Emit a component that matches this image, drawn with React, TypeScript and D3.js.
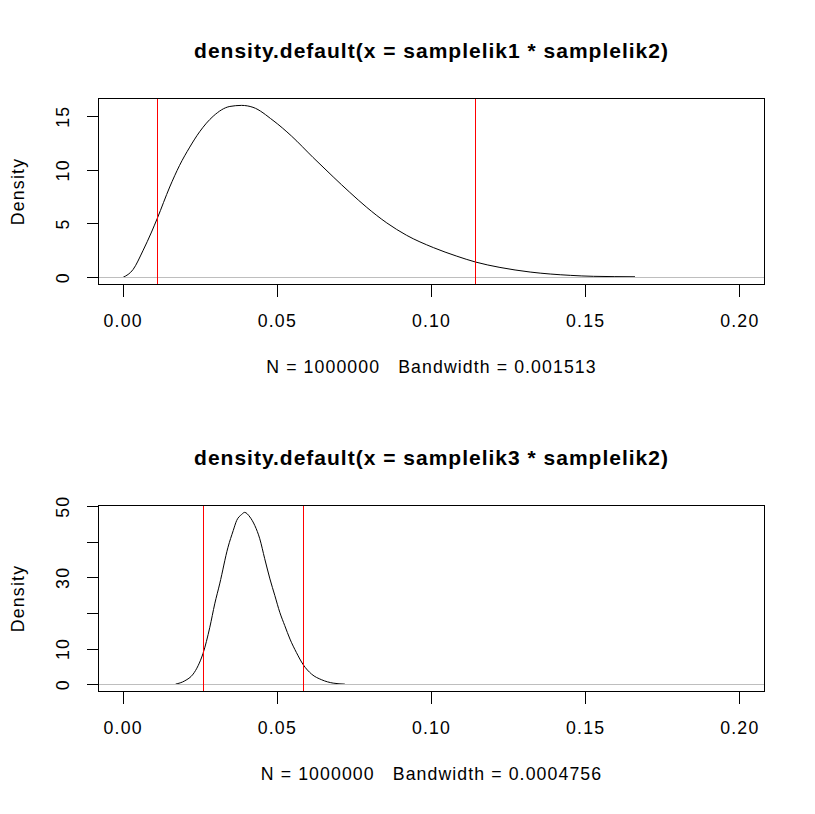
import React from 'react';
import * as d3 from 'd3';

// values
const xLim = [0, 0.2];
const xTicks = [0, 0.05, 0.1, 0.15, 0.2];

const titles = [
  'density.default(x = samplelik1 * samplelik2)',
  'density.default(x = samplelik3 * samplelik2)',
];
const subtitles = [
  'N = 1000000   Bandwidth = 0.001513',
  'N = 1000000   Bandwidth = 0.0004756',
];

const dens1X = [0.0, 0.0032, 0.0064, 0.0092, 0.0111, 0.0151, 0.0183, 0.0216, 0.0248, 0.0292, 0.0346, 0.0384,
  0.0421, 0.0486, 0.0546, 0.0616, 0.0681, 0.0735, 0.079, 0.0855, 0.0919, 0.1006, 0.1082, 0.1143,
  0.1222, 0.132, 0.145, 0.1525, 0.166];
const dens1Y = [0.03, 0.75, 2.5, 4.25, 5.55, 8.45, 10.47, 12.17, 13.6, 15.05, 15.96, 16.06,
  15.88, 14.66, 13.2, 11.2, 9.4, 7.95, 6.55, 5.1, 3.95, 2.8, 2.0, 1.45,
  0.95, 0.52, 0.21, 0.12, 0.08];
const yTicks1 = [0, 5, 10, 15];
const yLabels1 = [0, 5, 10, 15];
const quant1 = [0.011, 0.1143];

const dens2X = [0.017, 0.02, 0.0227, 0.0243, 0.0259, 0.0281, 0.0297, 0.0313, 0.034, 0.0357, 0.0368, 0.0384,
  0.0394, 0.0411, 0.0427, 0.0443, 0.0459, 0.0476, 0.0492, 0.0508, 0.0524, 0.0541, 0.0562, 0.0584, 0.0611,
  0.0644, 0.0681, 0.0719];
const dens2Y = [0.14, 1.07, 2.96, 5.3, 8.76, 16.1, 22.7, 28.3, 38.6, 43.3, 46.1, 47.8,
  48.4, 47.1, 44.7, 41.0, 35.4, 29.7, 25.0, 20.3, 16.6, 12.8, 9.0, 5.6, 2.96,
  1.35, 0.42, 0.14];
const yTicks2 = [0, 10, 20, 30, 40, 50];
const yLabels2 = [0, 10, 30, 50];
const quant2 = [0.0259, 0.0584];

const W = 815;
const H = 814;
const font = '"Liberation Sans", Arial, sans-serif';

function Panel({ top, title, sub, xs, ys, yTicks, yLabels, quant }) {
  const left = 98.5;
  const right = 764.5;
  const bottom = top + 186;
  const xPad = (xLim[1] - xLim[0]) * 0.04;
  const x = d3.scaleLinear().domain([xLim[0] - xPad, xLim[1] + xPad]).range([left, right]);
  const yMax = d3.max(ys);
  const yMin = 0;
  const yPad = (yMax - yMin) * 0.04;
  const y = d3.scaleLinear().domain([yMin - yPad, yMax + yPad]).range([bottom, top]);
  const pts = xs.map((v, i) => [v, ys[i]]);
  const line = d3.line().x(d => x(d[0])).y(d => y(d[1])).curve(d3.curveMonotoneX);
  const cy = (top + bottom) / 2;
  const cx = (left + right) / 2;
  const txt = { fontFamily: font, fontSize: 17.7, letterSpacing: 1.2, fill: '#000' };

  return (
    <g>
      <text x={cx} y={top - 40.2} textAnchor="middle"
        style={{ fontFamily: font, fontSize: 21, fontWeight: 'bold', letterSpacing: 1 }}>{title}</text>
      <path d={line(pts)} fill="none" stroke="#000" strokeWidth={1} />
      <line x1={left} x2={right} y1={y(0)} y2={y(0)} stroke="#bebebe" strokeWidth={1} shapeRendering="crispEdges" />
      {quant.map((q, i) => (
        <line key={i} x1={x(q)} x2={x(q)} y1={top} y2={bottom} stroke="#ff0000" strokeWidth={1} shapeRendering="crispEdges" />
      ))}
      <rect x={left} y={top} width={right - left} height={bottom - top} fill="none" stroke="#000" strokeWidth={1} shapeRendering="crispEdges" />
      {xTicks.map(t => (
        <g key={t}>
          <line x1={x(t)} x2={x(t)} y1={bottom} y2={bottom + 12} stroke="#000" shapeRendering="crispEdges" />
          <text x={x(t)} y={bottom + 42.5} textAnchor="middle" style={txt}>{d3.format('.2f')(t)}</text>
        </g>
      ))}
      {yTicks.map(t => (
        <line key={t} x1={left - 12} x2={left} y1={y(t)} y2={y(t)} stroke="#000" shapeRendering="crispEdges" />
      ))}
      {yLabels.map(t => (
        <text key={t} transform={`translate(${left - 29.2},${y(t)}) rotate(-90)`} textAnchor="middle" style={txt}>{t}</text>
      ))}
      <text transform={`translate(23.5,${cy}) rotate(-90)`} textAnchor="middle" style={txt}>Density</text>
      <text x={cx} y={bottom + 88.8} textAnchor="middle" xmlSpace="preserve"
        style={{ ...txt, letterSpacing: 1.1, whiteSpace: 'pre' }}>{sub}</text>
    </g>
  );
}

export default function App() {
  return (
    <svg width={W} height={H} style={{ position: 'absolute', left: 0, top: 0, background: '#fff' }}>
      <rect width={W} height={H} fill="#fff" />
      <Panel top={98.5} title={titles[0]} sub={subtitles[0]} xs={dens1X} ys={dens1Y}
        yTicks={yTicks1} yLabels={yLabels1} quant={quant1} />
      <Panel top={505.5} title={titles[1]} sub={subtitles[1]} xs={dens2X} ys={dens2Y}
        yTicks={yTicks2} yLabels={yLabels2} quant={quant2} />
    </svg>
  );
}
